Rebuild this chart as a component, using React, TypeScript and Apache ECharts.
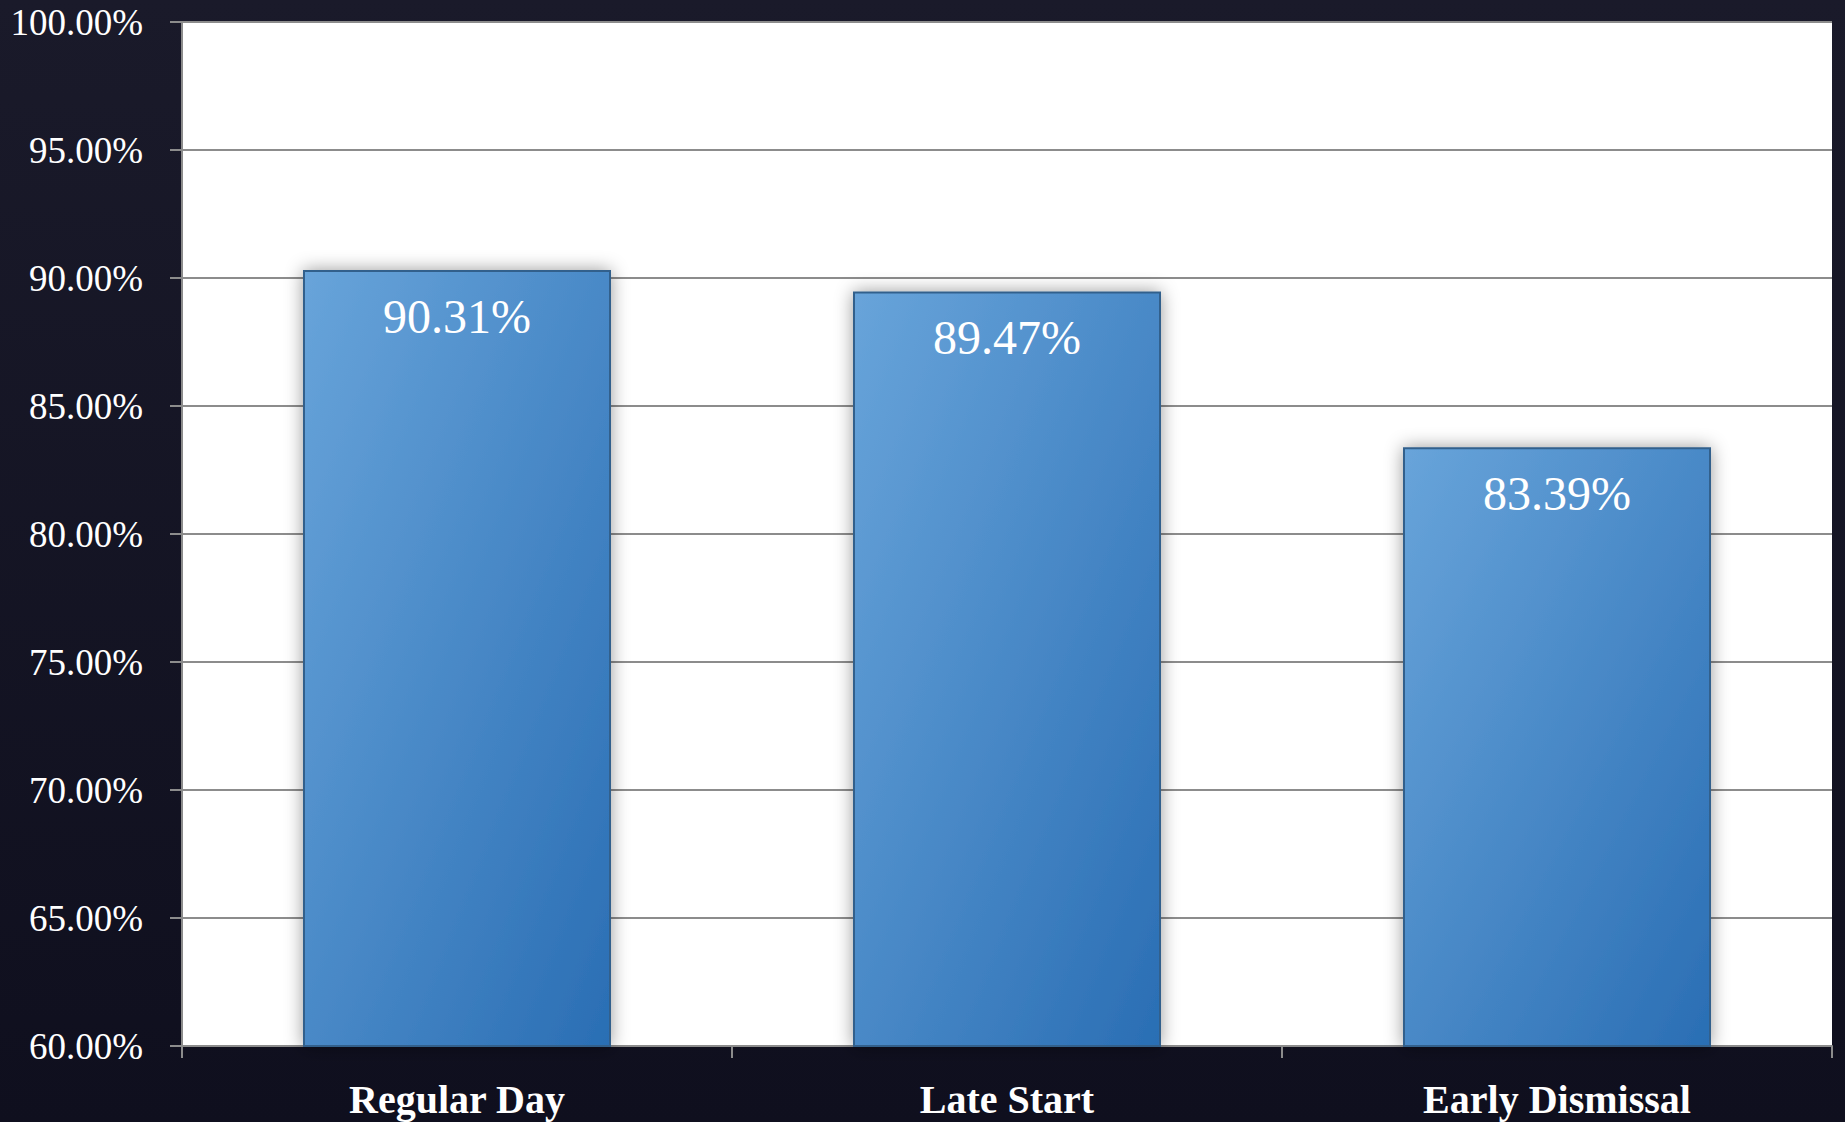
import React, { useEffect, useRef } from "react";
import * as echarts from "echarts";

const categories = ["Regular Day", "Late Start", "Early Dismissal"];
const values = [90.31, 89.47, 83.39];
const yMin = 60;
const yMax = 100;
const yStep = 5;

export default function App() {
  const ref = useRef<HTMLDivElement>(null);
  useEffect(() => {
    document.body.style.margin = "0";
    const chart = echarts.init(ref.current!, null, { renderer: "svg" });
    chart.setOption({
      animation: false,
      backgroundColor: {
        type: "linear", x: 0, y: 0, x2: 0, y2: 1,
        colorStops: [
          { offset: 0, color: "#1a1a2a" },
          { offset: 1, color: "#0f0f1e" },
        ],
      },
      grid: {
        left: 182, top: 22, right: 13, bottom: 76,
        show: true, backgroundColor: "#ffffff", borderWidth: 0,
      },
      xAxis: {
        type: "category",
        data: categories,
        axisLine: { lineStyle: { color: "#8c8c8c", width: 2 } },
        axisTick: { show: true, length: 12, alignWithLabel: false, lineStyle: { color: "#8c8c8c", width: 2 } },
        axisLabel: {
          color: "#ffffff", fontFamily: "Liberation Serif", fontWeight: "bold",
          fontSize: 40, margin: 33,
        },
      },
      yAxis: {
        type: "value",
        min: yMin, max: yMax, interval: yStep,
        axisLine: { show: true, lineStyle: { color: "#8c8c8c", width: 2 } },
        axisTick: { show: true, length: 12, lineStyle: { color: "#8c8c8c", width: 2 } },
        splitLine: { lineStyle: { color: "#8c8c8c", width: 2 } },
        axisLabel: {
          color: "#ffffff", fontFamily: "Liberation Serif", fontSize: 37, margin: 39,
          formatter: (v: number) => v.toFixed(2) + "%",
        },
      },
      series: [
        {
          type: "bar",
          data: values,
          barWidth: "56%",
          itemStyle: {
            color: {
              type: "linear", x: 0, y: 0, x2: 1, y2: 1,
              colorStops: [
                { offset: 0, color: "#68a4da" },
                { offset: 1, color: "#2a6eb4" },
              ],
            },
            borderColor: "#33608c",
            borderWidth: 2,
            shadowBlur: 18,
            shadowColor: "rgba(0,0,0,0.4)",
          },
          label: {
            show: true,
            position: "insideTop",
            distance: 22,
            color: "#ffffff",
            fontFamily: "Liberation Serif",
            fontSize: 48,
            formatter: (p: any) => p.value.toFixed(2) + "%",
          },
        },
      ],
    });
    return () => chart.dispose();
  }, []);
  return <div ref={ref} style={{ width: 1845, height: 1122 }} />;
}
